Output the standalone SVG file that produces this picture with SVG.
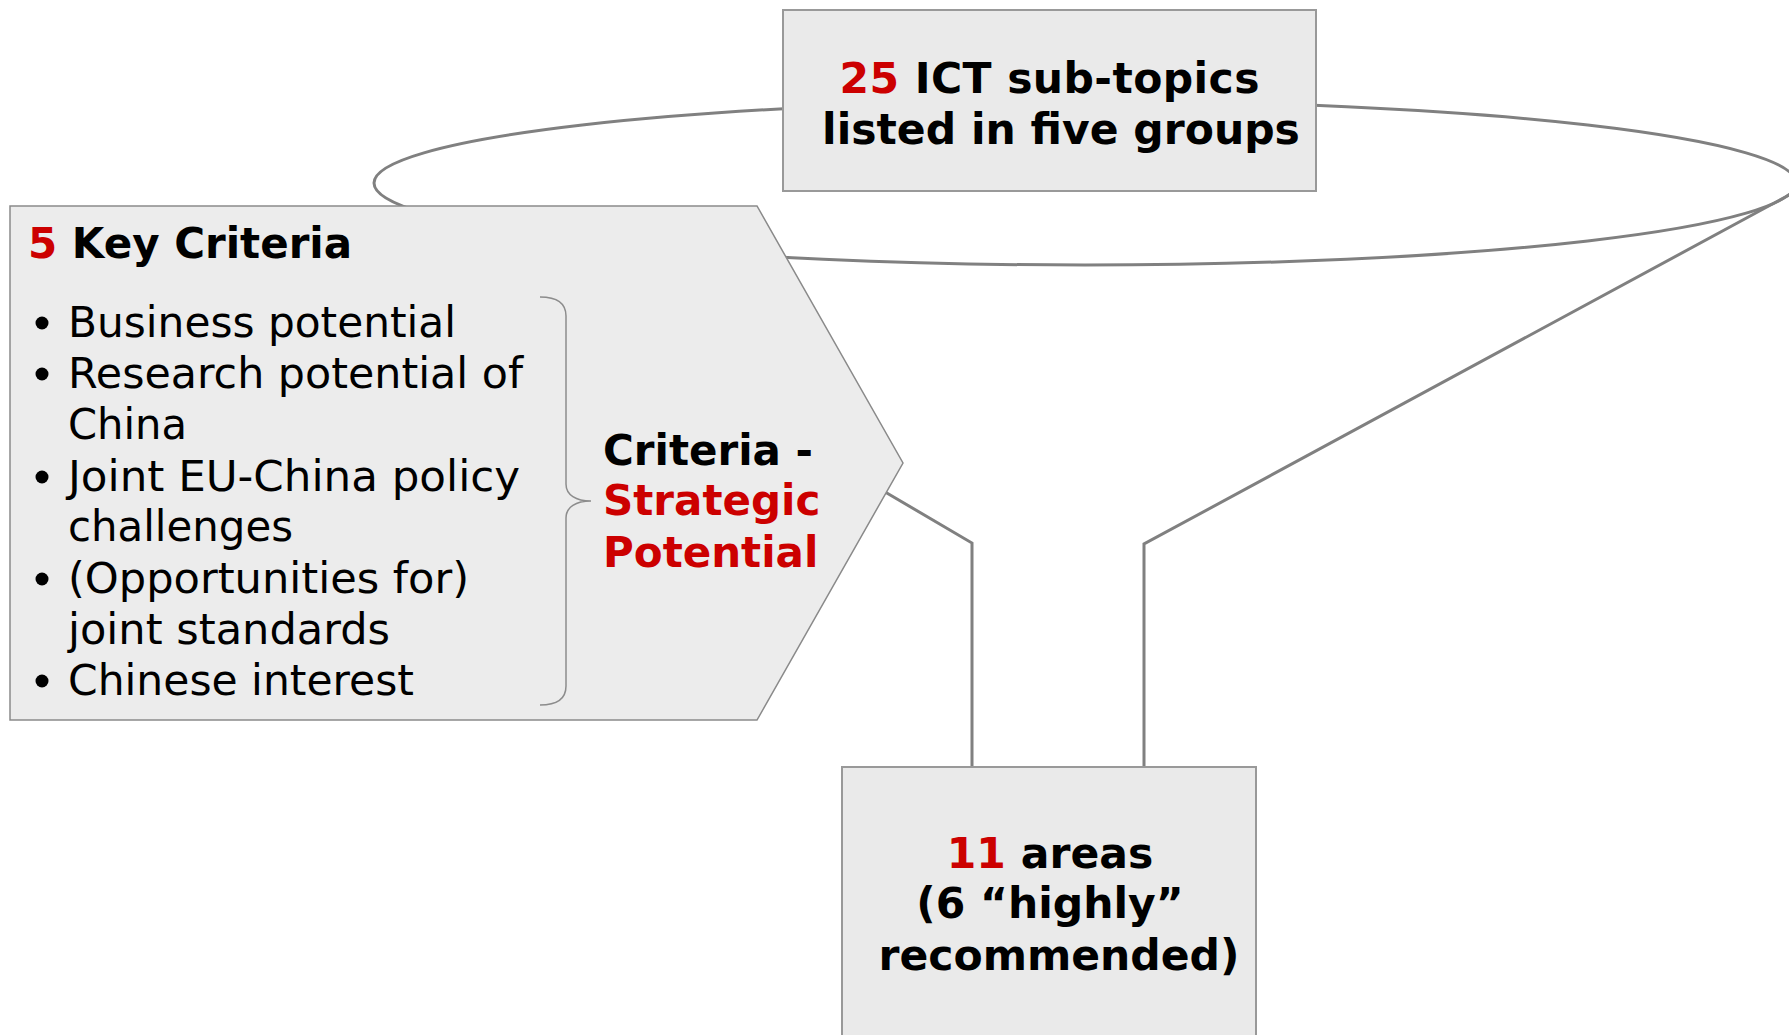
<svg xmlns="http://www.w3.org/2000/svg" width="1789" height="1035" viewBox="0 0 1789 1035">
<style>
.conn{fill:none;stroke:#808080;stroke-width:3}
.box{fill:#eaeaea;stroke:#999999;stroke-width:2}
.pent{fill:#ececec;stroke:#8a8a8a;stroke-width:1.5}
.brace{fill:none;stroke:#8c8c8c;stroke-width:1.5}
.b{font-family:"DejaVu Sans","Verdana",sans-serif;font-weight:bold;font-size:42.5px;fill:#000}
.r{font-family:"DejaVu Sans","Verdana",sans-serif;font-size:42px;fill:#000}
.red{fill:#cc0000}
</style>
<rect width="1789" height="1035" fill="#ffffff"/>
<g id="connectors">
<ellipse class="conn" cx="1085" cy="183" rx="711" ry="82"/>
<polyline class="conn" points="1789,195 1144,544 1144,767"/>
<polyline class="conn" points="880,489 972,543 972,767"/>
</g>
<g id="top-box">
<rect class="box" x="783" y="10" width="533" height="181"/>
<text class="b" x="1049.5" y="93" text-anchor="middle" textLength="420"><tspan class="red">25</tspan> ICT sub-topics</text>
<text class="b" x="1061" y="144" text-anchor="middle">listed in five groups</text>
</g>
<g id="criteria">
<polygon class="pent" points="10,206 757,206 903,463 757,720 10,720"/>
<text class="b" x="28" y="258" style="font-size:42px"><tspan class="red">5</tspan> Key Criteria</text>
<g fill="#000">
<circle cx="42" cy="323" r="6.5"/>
<circle cx="42" cy="374" r="6.5"/>
<circle cx="42" cy="477" r="6.5"/>
<circle cx="42" cy="579" r="6.5"/>
<circle cx="42" cy="681" r="6.5"/>
</g>
<text class="r" x="68" y="337" textLength="388" lengthAdjust="spacingAndGlyphs">Business potential</text>
<text class="r" x="68" y="388" textLength="455" lengthAdjust="spacingAndGlyphs">Research potential of</text>
<text class="r" x="68" y="439" textLength="119" lengthAdjust="spacingAndGlyphs">China</text>
<text class="r" x="68" y="491" textLength="452" lengthAdjust="spacingAndGlyphs">Joint EU-China policy</text>
<text class="r" x="68" y="541" textLength="225" lengthAdjust="spacingAndGlyphs">challenges</text>
<text class="r" x="68" y="593" textLength="401" lengthAdjust="spacingAndGlyphs">(Opportunities for)</text>
<text class="r" x="68" y="644" textLength="322" lengthAdjust="spacingAndGlyphs">joint standards</text>
<text class="r" x="68" y="695" textLength="346" lengthAdjust="spacingAndGlyphs">Chinese interest</text>
<path class="brace" d="M540,297 C556,297 566,303 566,316 L566,484 C566,495 576,501 591,501 C576,501 566,507 566,518 L566,686 C566,699 556,705 540,705"/>
<text class="b" x="603" y="465" style="font-size:42px">Criteria -</text>
<text class="b red" x="603" y="515" style="font-size:42px">Strategic</text>
<text class="b red" x="603" y="567" style="font-size:42px">Potential</text>
</g>
<g id="bottom-box">
<rect class="box" x="842" y="767" width="414" height="280"/>
<text class="b" x="1050" y="868" text-anchor="middle"><tspan class="red">11</tspan> areas</text>
<text class="b" x="1050" y="918" text-anchor="middle">(6 “highly”</text>
<text class="b" x="1059" y="970" text-anchor="middle">recommended)</text>
</g>
</svg>
